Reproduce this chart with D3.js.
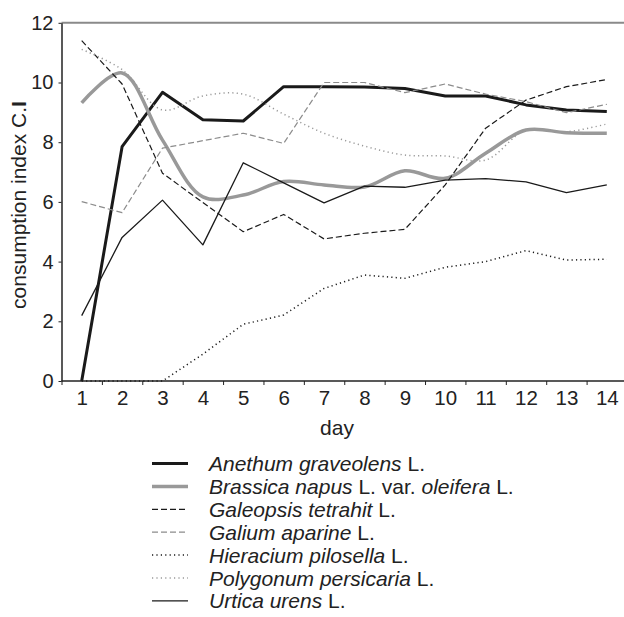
<!DOCTYPE html>
<html>
<head>
<meta charset="utf-8">
<script src="https://cdn.jsdelivr.net/npm/d3@7"></script>
<style>
  html, body { margin: 0; padding: 0; background: #fff; }
  svg { display: block; }
</style>
</head>
<body>
<div id="chart"></div>
<script>
// Consumption index per day
const days = [1, 2, 3, 4, 5, 6, 7, 8, 9, 10, 11, 12, 13, 14];
const yTicks = [0, 2, 4, 6, 8, 10, 12];

const anethum    = [0, 7.85, 9.67, 8.75, 8.71, 9.86, 9.86, 9.85, 9.8, 9.55, 9.55, 9.25, 9.08, 9.03];
const brassica   = [9.32, 10.32, 8.07, 6.17, 6.23, 6.68, 6.57, 6.5, 7.04, 6.79, 7.63, 8.41, 8.32, 8.3];
const galeopsis  = [11.4, 9.95, 6.96, 5.98, 5.0, 5.58, 4.76, 4.95, 5.08, 6.57, 8.47, 9.41, 9.86, 10.1];
const galium     = [6.01, 5.64, 7.8, 8.05, 8.3, 7.96, 10.0, 10.0, 9.66, 9.95, 9.61, 9.36, 8.99, 9.27];
const hieracium  = [0, 0, 0, 0.9, 1.9, 2.21, 3.1, 3.55, 3.44, 3.81, 4.0, 4.37, 4.05, 4.08];
const polygonum  = [11.11, 10.43, 9.08, 9.55, 9.61, 8.94, 8.3, 7.87, 7.57, 7.54, 7.4, 8.41, 8.35, 8.61];
const urtica     = [2.19, 4.81, 6.06, 4.56, 7.31, 6.64, 5.97, 6.53, 6.49, 6.73, 6.78, 6.67, 6.31, 6.57];

// name parts alternate italic / upright
const series = [
  { name: ['Anethum graveolens', ' L.'], values: anethum, color: '#1a1a1a', width: 3, dash: null, smooth: false },
  { name: ['Brassica napus', ' L. var. ', 'oleifera', ' L.'], values: brassica, color: '#999999', width: 3.5, dash: null, smooth: true },
  { name: ['Galeopsis tetrahit', ' L.'], values: galeopsis, color: '#1a1a1a', width: 1.2, dash: '6,3', smooth: false },
  { name: ['Galium aparine', ' L.'], values: galium, color: '#8c8c8c', width: 1.2, dash: '6,3', smooth: false },
  { name: ['Hieracium pilosella', ' L.'], values: hieracium, color: '#1a1a1a', width: 1.5, dash: '1.2,3.2', smooth: false },
  { name: ['Polygonum persicaria', ' L.'], values: polygonum, color: '#999999', width: 1.5, dash: '1.2,3.2', smooth: true },
  { name: ['Urtica urens', ' L.'], values: urtica, color: '#1a1a1a', width: 1.3, dash: null, smooth: false },
];

const width = 624, height = 617;
const font = '"Liberation Sans", Arial, Helvetica, sans-serif';

const svg = d3.select('#chart').append('svg')
  .attr('width', width)
  .attr('height', height)
  .style('font-family', font);

const x = d3.scaleLinear().domain([0.5, 14.5]).range([61.5, 627]);
const y = d3.scaleLinear().domain([0, 12]).range([381, 22.8]);

// Top frame line (gray)
svg.append('line')
  .attr('x1', x(0.5)).attr('x2', width)
  .attr('y1', y(12)).attr('y2', y(12))
  .attr('stroke', '#8a8a8a').attr('stroke-width', 2);

// Y axis
const yAxis = svg.append('g')
  .attr('transform', `translate(${x(0.5)},0)`)
  .call(d3.axisLeft(y).tickValues(yTicks).tickSize(3).tickSizeOuter(0).tickPadding(5));
yAxis.select('.domain').attr('stroke', '#222').attr('stroke-width', 1.5);
yAxis.selectAll('.tick line').attr('stroke', '#222');
yAxis.selectAll('.tick text')
  .attr('font-size', '20px').attr('font-family', font).attr('fill', '#222');

// X axis: ticks between days, labels on days
const xTickMarks = svg.append('g')
  .attr('transform', `translate(0,${y(0)})`)
  .call(d3.axisBottom(x).tickValues(days.map(d => d - 0.5).concat([14.5])).tickSize(4).tickFormat(''));
xTickMarks.select('.domain').attr('stroke', '#222').attr('stroke-width', 1.5)
  .attr('d', `M${x(0.5)},0H${width}`);
xTickMarks.selectAll('.tick line').attr('stroke', '#222');

const xLabels = svg.append('g')
  .attr('transform', `translate(0,${y(0)})`)
  .call(d3.axisBottom(x).tickValues(days).tickSize(0).tickPadding(9.5).tickFormat(d3.format('d')));
xLabels.select('.domain').remove();
xLabels.selectAll('.tick text')
  .attr('font-size', '20.5px').attr('font-family', font).attr('fill', '#222');

// Axis titles
svg.append('text')
  .attr('x', 337).attr('y', 435)
  .attr('text-anchor', 'middle')
  .attr('font-size', '21px').attr('fill', '#222')
  .text('day');

const yTitle = svg.append('text')
  .attr('transform', 'translate(25.5,205) rotate(-90)')
  .attr('text-anchor', 'middle')
  .attr('font-size', '21px').attr('fill', '#222');
yTitle.append('tspan').text('consumption index C.');
yTitle.append('tspan').attr('font-weight', 'bold').text('I');

// Series lines
const plot = svg.append('g');
series.forEach(s => {
  const line = d3.line()
    .x((d, i) => x(days[i]))
    .y(d => y(d))
    .curve(s.smooth ? d3.curveCatmullRom.alpha(0.5) : d3.curveLinear);
  plot.append('path')
    .datum(s.values)
    .attr('d', line)
    .attr('fill', 'none')
    .attr('stroke', s.color)
    .attr('stroke-width', s.width)
    .attr('stroke-dasharray', s.dash)
    .attr('stroke-linejoin', 'round');
});

// Legend
const legend = svg.append('g');
series.forEach((s, i) => {
  const ly = 463.5 + i * 22.9;
  legend.append('line')
    .attr('x1', 152).attr('x2', 188)
    .attr('y1', ly).attr('y2', ly)
    .attr('stroke', s.color)
    .attr('stroke-width', s.width)
    .attr('stroke-dasharray', s.dash);
  const t = legend.append('text')
    .attr('x', 209).attr('y', ly + 7.5)
    .attr('font-size', '21px').attr('fill', '#222');
  s.name.forEach((part, j) => {
    t.append('tspan')
      .attr('font-style', j % 2 === 0 ? 'italic' : 'normal')
      .text(part);
  });
});
</script>
</body>
</html>
